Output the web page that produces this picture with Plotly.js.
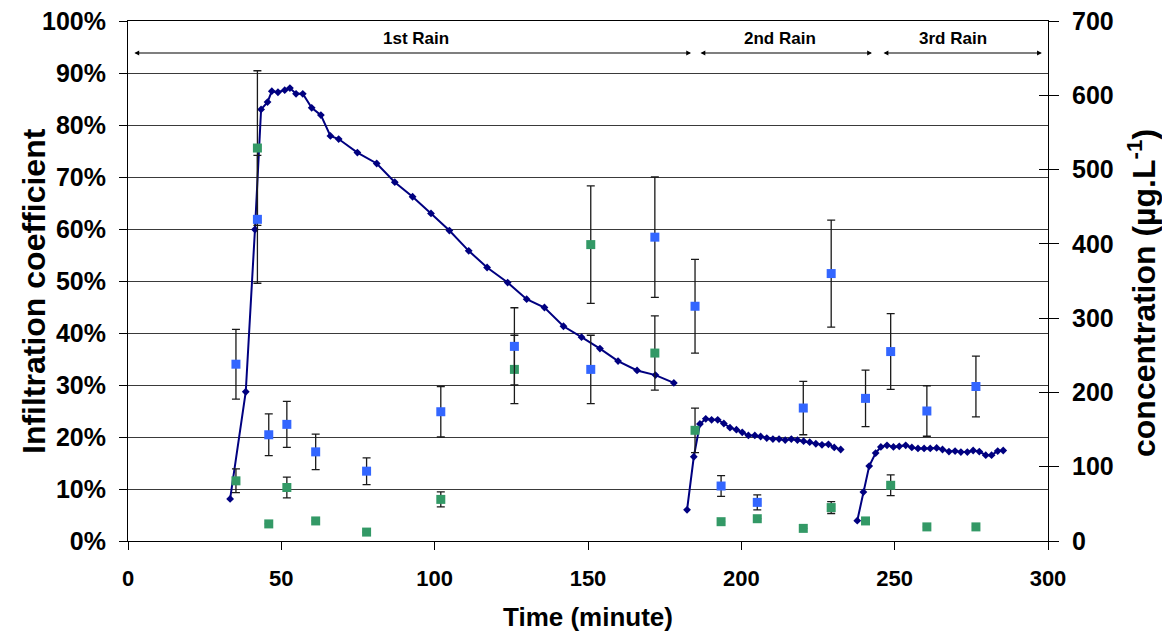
<!DOCTYPE html>
<html>
<head>
<meta charset="utf-8">
<script src="https://cdn.plot.ly/plotly-3.0.1.min.js"></script>
<style>html,body{margin:0;padding:0;background:#fff;}#chart{width:1162px;height:636px;}</style>
</head>
<body>
<div id="chart"></div>
<script>
// Infiltration coefficient (%), three rain events
const rain1Time = [33.3, 38.4, 41.4, 43.4, 45.5, 46.9, 48.9, 51.1, 52.8, 54.8, 57.0, 59.9, 62.9, 66.0, 68.7, 74.8, 81.1, 87.0, 92.8, 98.8, 104.8, 111.1, 117.1, 123.8, 130.0, 135.8, 142.0, 147.9, 153.9, 159.8, 166.0, 172.0, 178.0];
const rain1Coef = [8.1, 28.7, 59.9, 83.0, 84.4, 86.5, 86.3, 86.7, 87.1, 86.0, 86.0, 83.3, 81.9, 77.9, 77.3, 74.7, 72.6, 69.0, 66.2, 63.0, 59.7, 55.8, 52.6, 49.7, 46.5, 44.9, 41.3, 39.2, 37.0, 34.6, 32.8, 31.9, 30.4];
const rain2Time = [182.3, 184.5, 186.5, 188.4, 190.3, 192.3, 194.3, 196.3, 198.4, 200.3, 202.3, 204.4, 206.3, 208.3, 210.3, 212.3, 214.3, 216.3, 218.3, 220.3, 222.3, 224.3, 226.3, 228.4, 230.3, 232.4];
const rain2Coef = [6.0, 16.2, 22.5, 23.5, 23.3, 23.3, 22.6, 21.8, 21.4, 20.9, 20.3, 20.3, 20.1, 19.8, 19.6, 19.6, 19.4, 19.6, 19.4, 19.2, 19.0, 18.7, 18.5, 18.6, 18.0, 17.6];
const rain3Time = [237.8, 239.8, 241.7, 243.8, 245.5, 247.5, 249.6, 251.5, 253.6, 255.6, 257.6, 259.6, 261.6, 263.7, 265.6, 267.7, 269.7, 271.6, 273.7, 275.6, 277.6, 279.7, 281.6, 283.6, 285.4];
const rain3Coef = [3.9, 9.4, 14.4, 16.9, 18.1, 18.4, 18.1, 18.2, 18.4, 18.0, 17.8, 17.8, 17.8, 17.9, 17.6, 17.2, 17.3, 17.1, 17.1, 17.4, 17.2, 16.5, 16.5, 17.3, 17.4];

// Concentrations (µg/L) at sampling times
const sampleTime = [35.2, 42.2, 45.9, 51.8, 61.2, 77.8, 102.0, 126.0, 150.9, 171.8, 184.9, 193.4, 205.2, 220.2, 229.3, 240.5, 248.7, 260.5, 276.5];
const blueConc = [238, 433, 143, 157, 120, 94, 174, 262, 231, 409, 316, 74, 52, 179, 360, 192, 255, 175, 208];
const blueErr  = [47, 86, 28, 31, 24, 18, 34, 52, 46, 81, 63, 14, 10, 36, 72, 38, 51, 34, 41];
const greenConc = [81, 529, 23, 72, 27, 12, 56, 231, 399, 253, 149, 26, 30, 17, 45, 27, 75, 19, 19];
const greenErr  = [16, 104, 0, 14, 0, 0, 10, 46, 79, 50, 30, 0, 0, 0, 8, 0, 14, 0, 0];

// Rain event labels and extents (minutes)
const rainLabels = ['1st Rain', '2nd Rain', '3rd Rain'];
const rainStart = [1.6, 186.2, 245.9];
const rainEnd = [183.6, 242.6, 298.0];
const rainLabelX = [93.9, 212.6, 269.0];

const xTicks = [0, 50, 100, 150, 200, 250, 300];

const lineX = rain1Time.concat([null], rain2Time, [null], rain3Time);
const lineY = rain1Coef.concat([null], rain2Coef, [null], rain3Coef);

const FONT = 'Liberation Sans, Arial, sans-serif';
const errStyle = {type: 'data', visible: true, color: '#1a1a1a', thickness: 1.3, width: 4};

const traces = [
  {x: lineX, y: lineY, type: 'scatter', mode: 'lines+markers', connectgaps: false,
   line: {color: '#000080', width: 2}, marker: {symbol: 'diamond', size: 6, color: '#000080'},
   yaxis: 'y', showlegend: false, hoverinfo: 'skip'},
  {x: sampleTime, y: greenConc, type: 'scatter', mode: 'markers',
   marker: {symbol: 'square', size: 9, color: '#339966'},
   error_y: Object.assign({array: greenErr}, errStyle), yaxis: 'y2', showlegend: false},
  {x: sampleTime, y: blueConc, type: 'scatter', mode: 'markers',
   marker: {symbol: 'square', size: 9, color: '#3366FF'},
   error_y: Object.assign({array: blueErr}, errStyle), yaxis: 'y2', showlegend: false},
  {x: [null], y: [null], type: 'scatter', mode: 'markers', yaxis: 'y3', showlegend: false, hoverinfo: 'skip'}
];

const titleFont = {family: FONT, size: 32, color: '#000', weight: 'bold'};
const annotations = [
  {x: 0, xref: 'paper', xshift: -94, y: 0.5, yref: 'paper', yshift: -10, textangle: -90, showarrow: false,
   xanchor: 'center', yanchor: 'middle', text: 'Infiltration coefficient', font: titleFont},
  {x: 1, xref: 'paper', xshift: 94, y: 0.5, yref: 'paper', yshift: -12, textangle: -90, showarrow: false,
   xanchor: 'center', yanchor: 'middle', text: 'concentration (µg.L<sup>-1</sup>)', font: titleFont}
];
for (let i = 0; i < rainLabels.length; i++) {
  annotations.push({x: rainLabelX[i], y: 96.7, xref: 'x', yref: 'y', text: rainLabels[i], showarrow: false,
    font: {family: FONT, size: 17, color: '#000', weight: 'bold'}});
  annotations.push({x: rainEnd[i], y: 93.85, ax: rainStart[i], ay: 93.85, xref: 'x', yref: 'y', axref: 'x', ayref: 'y',
    text: '', showarrow: true, arrowside: 'end+start', arrowhead: 2, arrowsize: 0.8, arrowwidth: 1.2,
    arrowcolor: '#000', standoff: 0, startstandoff: 0});
}

const layout = {
  width: 1162, height: 636,
  margin: {l: 128, r: 114, t: 21, b: 95},
  paper_bgcolor: '#fff', plot_bgcolor: '#fff',
  font: {family: FONT, color: '#000'},
  showlegend: false,
  xaxis: {
    range: [0, 300], tickvals: xTicks, ticks: 'outside', ticklen: 8, tickcolor: '#000', tickwidth: 1,
    showline: true, linecolor: '#000', linewidth: 1, mirror: true, showgrid: false, zeroline: false,
    ticklabelstandoff: 10,
    tickfont: {family: FONT, size: 22, color: '#000', weight: 'bold'},
    title: {text: 'Time (minute)', font: {family: FONT, size: 26, color: '#000', weight: 'bold'}, standoff: 17}
  },
  yaxis: {
    range: [0, 100], dtick: 10, ticksuffix: '%', ticks: 'outside', ticklen: 8, tickcolor: '#000',
    showline: true, linecolor: '#000', linewidth: 1, showgrid: true, gridcolor: '#3a3a3a', gridwidth: 1,
    zeroline: false, ticklabelstandoff: 8,
    tickfont: {family: FONT, size: 25, color: '#000', weight: 'bold'}
  },
  yaxis2: {
    range: [0, 700], dtick: 100, overlaying: 'y', side: 'right', anchor: 'x',
    ticks: 'outside', ticklen: 10, tickcolor: '#000', showline: true, linecolor: '#000', linewidth: 1,
    showgrid: false, zeroline: false, ticklabelstandoff: 8,
    tickfont: {family: FONT, size: 25, color: '#000', weight: 'bold'}
  },
  yaxis3: {
    range: [0, 700], dtick: 100, overlaying: 'y', side: 'right', anchor: 'x',
    ticks: 'inside', ticklen: 9, tickcolor: '#000', showticklabels: false, showline: false,
    showgrid: false, zeroline: false
  },
  annotations: annotations
};

Plotly.newPlot('chart', traces, layout, {displayModeBar: false, staticPlot: true});
</script>
</body>
</html>
